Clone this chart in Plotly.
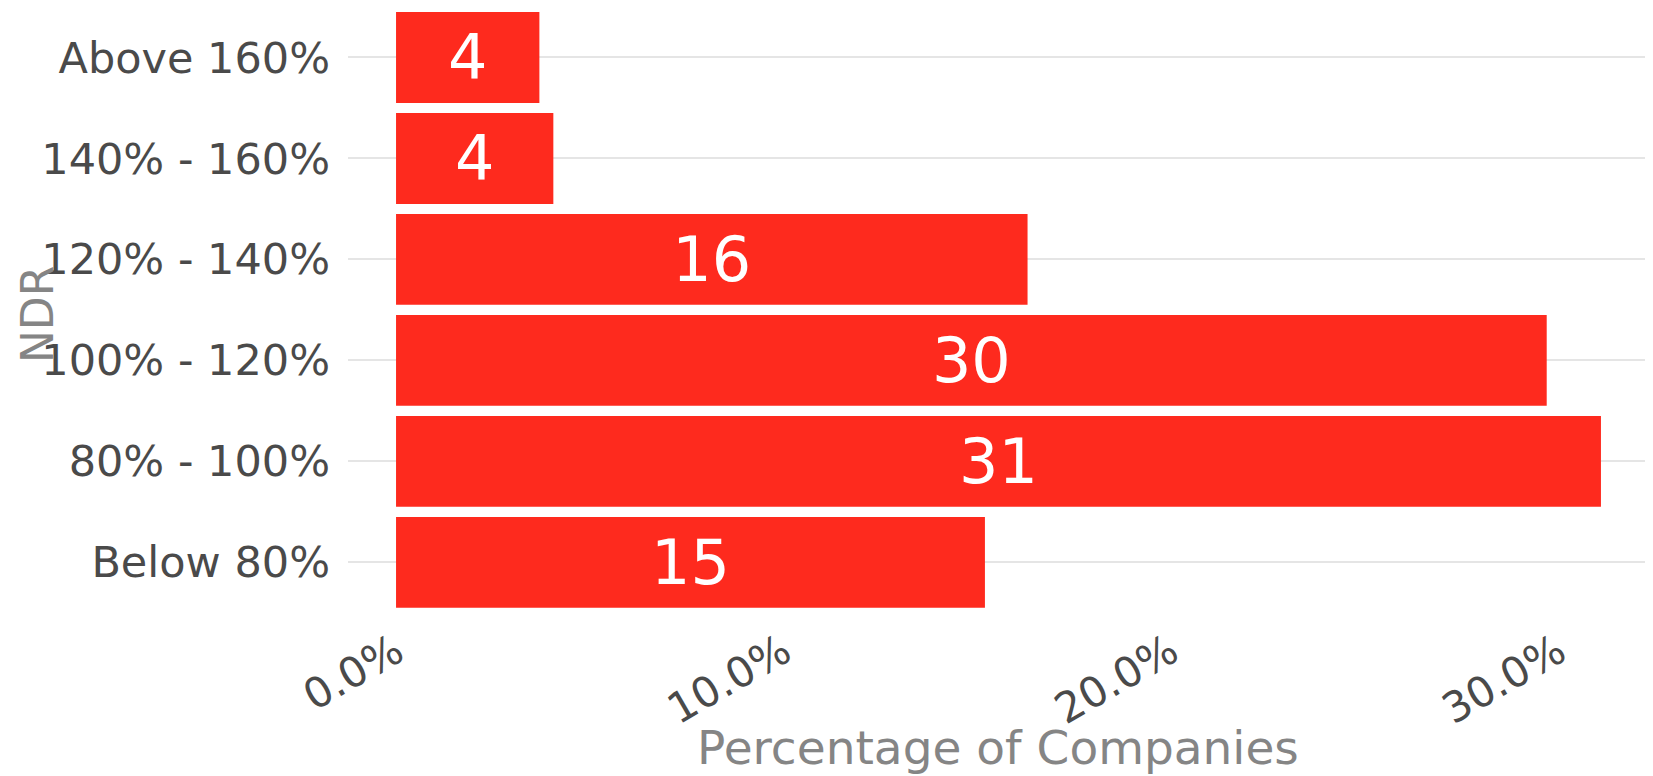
import plotly.graph_objects as go

categories = ["Below 80%", "80% - 100%", "100% - 120%", "120% - 140%", "140% - 160%", "Above 160%"]
percentages = [15.2, 31.1, 29.7, 16.3, 4.06, 3.7]
labels = [str(round(v)) for v in percentages]
tick_values = [0, 10, 20, 30]
tick_labels = ["0.0%", "10.0%", "20.0%", "30.0%"]
x_title = "Percentage of Companies"
y_title = "NDR"

FONT = "DejaVu Sans"

fig = go.Figure(
    go.Bar(
        y=categories,
        x=percentages,
        orientation="h",
        marker=dict(color="#FE2A1E", line=dict(width=0)),
        width=0.9,
        text=labels,
        textposition="inside",
        insidetextanchor="middle",
        textfont=dict(family=FONT, size=62, color="white"),
        hoverinfo="skip",
    )
)

fig.update_layout(
    width=1653,
    height=776,
    margin=dict(l=340, r=0, t=0, b=150),
    paper_bgcolor="white",
    plot_bgcolor="white",
    showlegend=False,
    uniformtext=dict(mode=False),
    font=dict(family=FONT),
)

fig.update_xaxes(
    range=[-1.24, 32.65],
    tickvals=tick_values,
    ticktext=tick_labels,
    tickangle=-30,
    tickfont=dict(family=FONT, size=42, color="#4A4A4A"),
    ticklabelstandoff=-16,
    showgrid=False,
    zeroline=False,
    showline=False,
    ticks="",
    automargin=False,
)

fig.update_yaxes(
    categoryorder="array",
    categoryarray=categories,
    range=[-0.71, 5.49],
    tickfont=dict(family=FONT, size=43, color="#4A4A4A"),
    showgrid=True,
    gridcolor="#E5E5E5",
    gridwidth=1.5,
    zeroline=False,
    showline=False,
    ticks="",
    ticklabelstandoff=17,
    automargin=False,
)

# axis titles
fig.add_annotation(
    text=x_title,
    xref="paper", yref="paper",
    x=0.495, y=-0.229,
    xanchor="center", yanchor="bottom",
    showarrow=False,
    font=dict(family=FONT, size=47, color="#858585"),
)
fig.add_annotation(
    text=y_title,
    xref="paper", yref="paper",
    x=-0.2369, y=0.511,
    xanchor="center", yanchor="middle",
    textangle=-90,
    showarrow=False,
    font=dict(family=FONT, size=44, color="#858585"),
)

fig.write_html("out.html")
